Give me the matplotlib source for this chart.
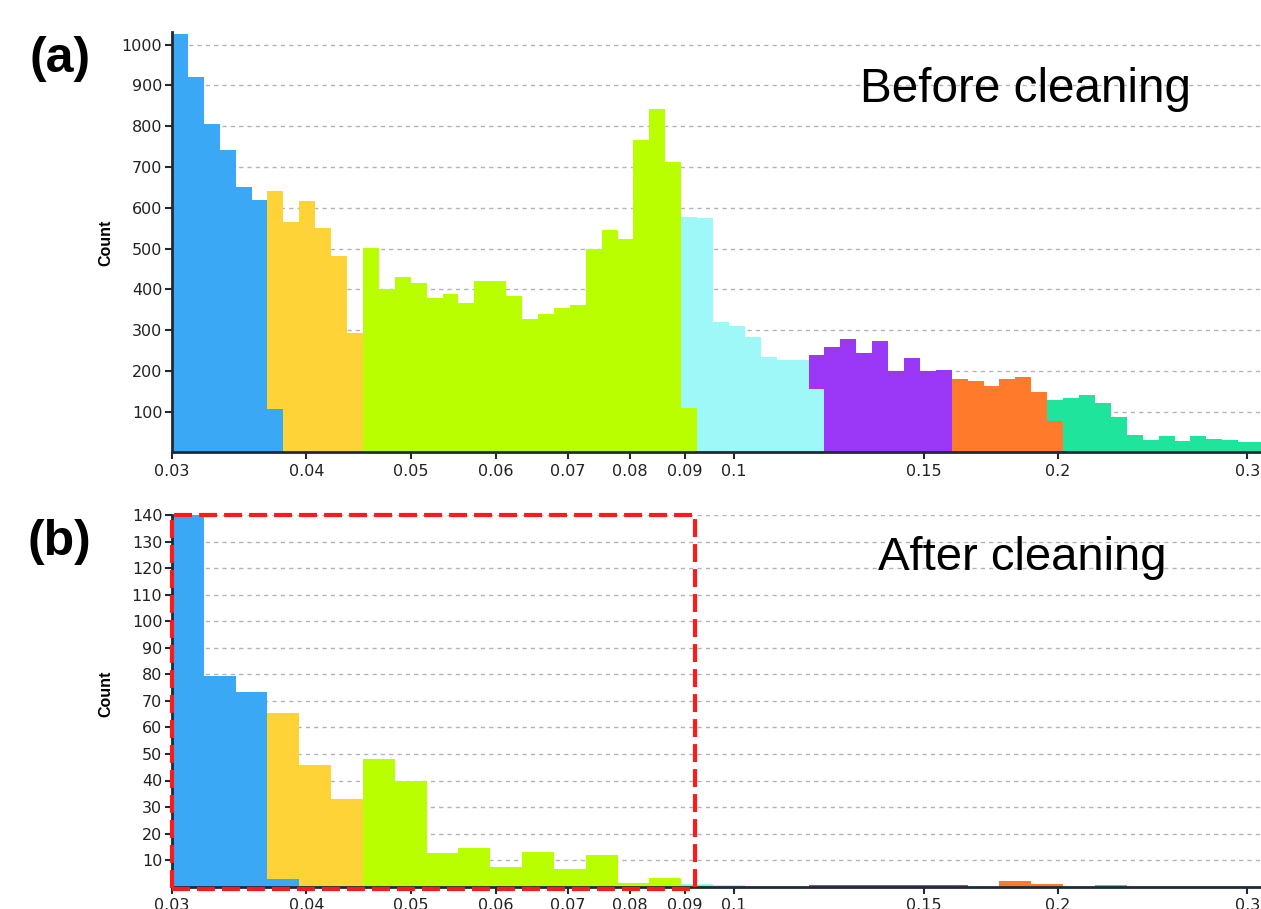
import matplotlib.pyplot as plt
from matplotlib.patches import Rectangle
from matplotlib.ticker import FixedLocator, FixedFormatter, NullLocator
import numpy as np

# histogram bins are equal steps in log10(x), starting at 0.03
x_start = 0.03
step_a = 0.0148          # bin width (decades) in panel (a)
step_b = 2 * step_a      # panel (b) uses double-width bins

c_blue = "#3ba8f6"
c_gold = "#fdd337"
c_lime = "#baff00"
c_cyan = "#9ef8f8"
c_purple = "#9b37f6"
c_orange = "#ff7a2a"
c_teal = "#1ee59b"

# (a) before cleaning -- (first bin index, counts), stacked where bins overlap
blue_a = [1026, 921, 805, 741, 650, 620, 106]
gold_a = [536, 564, 617, 550, 482, 293]
lime_a = [502, 400, 429, 416, 379, 388, 367, 420, 420, 383, 326,
          340, 353, 361, 498, 545, 523, 765, 841, 712, 110]
cyan_a = [468, 574, 320, 309, 283, 234, 226, 227, 156]
purple_a = [84, 258, 277, 244, 273, 199, 232, 199, 203]
orange_a = [181, 174, 162, 181, 184, 148, 76]
teal_a = [53, 133, 140, 121, 88, 43, 30, 39, 28, 40, 34, 30, 25, 25]

groups_a = [(0, blue_a, c_blue), (6, gold_a, c_gold), (12, lime_a, c_lime),
            (32, cyan_a, c_cyan), (40, purple_a, c_purple),
            (49, orange_a, c_orange), (55, teal_a, c_teal)]

# (b) after cleaning
blue_b = [152, 79.4, 73.5, 3]
gold_b = [62.5, 46, 33]
lime_b = [48, 40, 12.8, 14.4, 7.5, 12.9, 6.5, 11.9, 1.5, 3.4, 0.5]
cyan_b = [0.4, 0.6]
purple_b = [0.7, 0.7, 0.7, 0.7, 0.7]
orange_b = [2.1, 1.0]
teal_b = [0.7]

groups_b = [(0, blue_b, c_blue), (3, gold_b, c_gold), (6, lime_b, c_lime),
            (16, cyan_b, c_cyan), (20, purple_b, c_purple),
            (26, orange_b, c_orange), (29, teal_b, c_teal)]

xticks = [0.03, 0.04, 0.05, 0.06, 0.07, 0.08, 0.09, 0.1, 0.15, 0.2, 0.3]
xticklabels = ["0.03", "0.04", "0.05", "0.06", "0.07", "0.08", "0.09",
               "0.1", "0.15", "0.2", "0.3"]
yticks_a = list(range(100, 1001, 100))
yticks_b = list(range(10, 141, 10))

W, H = 1261, 909
fig = plt.figure(figsize=(W / 100, H / 100), dpi=100)
fig.patch.set_facecolor("white")

ax_a = fig.add_axes([172 / W, (H - 452.4) / H, 1089 / W, 420 / H])
ax_b = fig.add_axes([172 / W, (H - 886.7) / H, 1089 / W, 371.7 / H])


def draw_hist(ax, groups, step, nbins):
    bottom = np.zeros(nbins)
    for start, counts, color in groups:
        idx = np.arange(start, start + len(counts))
        left = x_start * 10 ** (idx * step)
        right = x_start * 10 ** ((idx + 1) * step)
        ax.bar(left, counts, width=right - left, bottom=bottom[idx],
               align="edge", color=color, linewidth=0, zorder=2)
        bottom[idx] += counts


def style(ax, yticks, ymax):
    ax.set_xscale("log")
    ax.set_xlim(0.03, 0.309)
    ax.set_ylim(0, ymax)
    ax.xaxis.set_major_locator(FixedLocator(xticks))
    ax.xaxis.set_major_formatter(FixedFormatter(xticklabels))
    ax.xaxis.set_minor_locator(NullLocator())
    ax.set_yticks(yticks)
    for y in yticks:
        ax.axhline(y, color="#b4b4b4", lw=1.0, ls=(0, (3, 3)), zorder=1)
    for s in ["top", "right"]:
        ax.spines[s].set_visible(False)
    for s in ["left", "bottom"]:
        ax.spines[s].set_color("#1e2a36")
        ax.spines[s].set_linewidth(2)
        ax.spines[s].set_zorder(4)
    ax.tick_params(axis="both", direction="out", length=5, width=1.5,
                   color="#1e2a36", labelsize=11.5, labelcolor="#222222")
    ax.tick_params(axis="y", pad=2)
    ax.tick_params(axis="x", pad=3)
    ax.set_ylabel("Count", fontsize=11.5, fontweight="bold",
                  family="Liberation Sans")


draw_hist(ax_a, groups_a, step_a, 70)
draw_hist(ax_b, groups_b, step_b, 35)
style(ax_a, yticks_a, 1030)
style(ax_b, yticks_b, 140)
ax_a.yaxis.set_label_coords(-0.054, 0.5)
ax_b.yaxis.set_label_coords(-0.054, 0.52)

# red dashed box round the cleaned region
box = Rectangle((0.03, -1), 0.092 - 0.03, 141, fill=False, edgecolor="#ff1a1a",
                lw=3, ls=(0, (4.3, 1.7)), zorder=5, clip_on=False)
ax_b.add_patch(box)

fig.text(860 / W, 1 - 102 / H, "Before cleaning", fontsize=34.3,
         family="Liberation Sans", va="baseline", ha="left")
fig.text(878 / W, 1 - 570 / H, "After cleaning", fontsize=34,
         family="Liberation Sans", va="baseline", ha="left")
fig.text(30 / W, 1 - 72 / H, "(a)", fontsize=36, fontweight="bold",
         family="Liberation Sans", va="baseline", ha="left")
fig.text(28 / W, 1 - 555 / H, "(b)", fontsize=36, fontweight="bold",
         family="Liberation Sans", va="baseline", ha="left")

fig.savefig("out.png", dpi=100)
